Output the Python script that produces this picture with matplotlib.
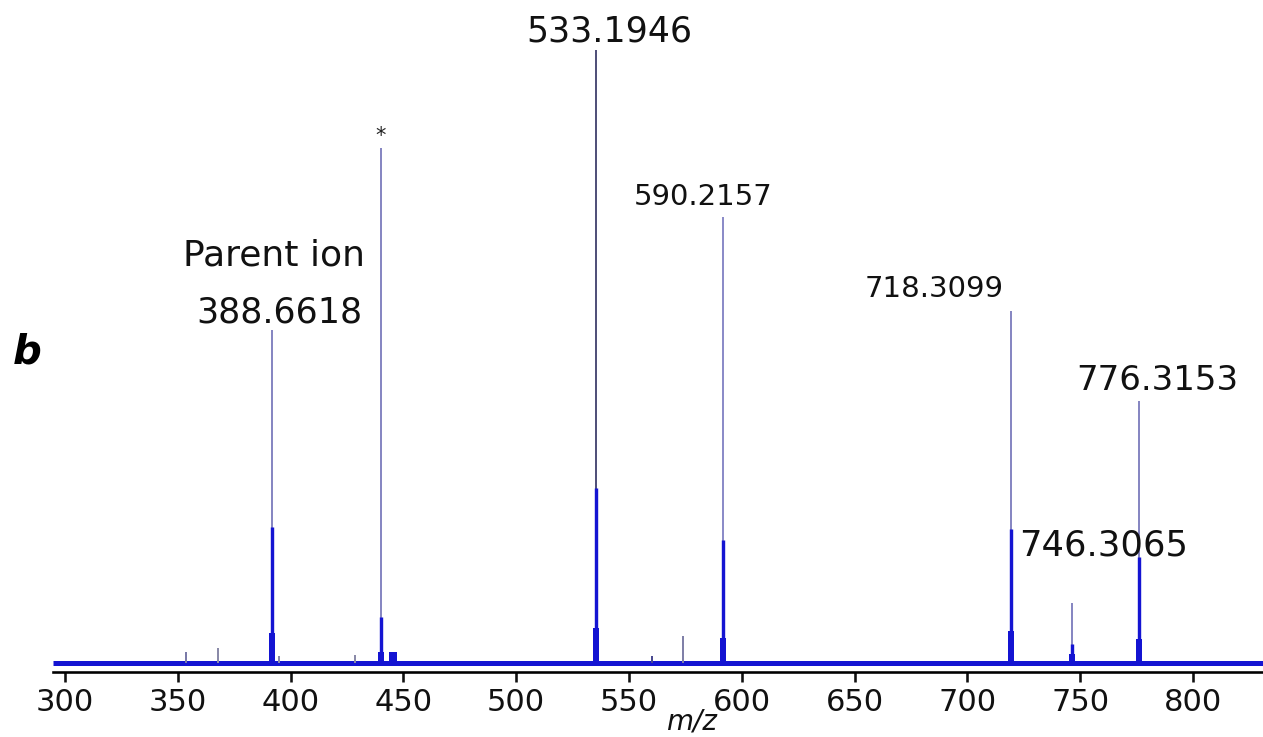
import matplotlib
matplotlib.use('Agg')
import matplotlib.pyplot as plt

# main peaks: m/z position, stick height, profile height, base width height (% rel.)
peak_mz = [391.8, 440.1, 535.4, 591.7, 719.3, 746.4, 776.1]
peak_top = [54.3, 84.0, 100.0, 72.8, 57.4, 9.8, 42.7]
peak_body = [22.2, 7.5, 28.5, 20.1, 21.9, 3.1, 17.3]
peak_base = [4.9, 1.8, 5.7, 4.1, 5.2, 1.5, 3.9]

# minor peaks
minor_mz = [353.6, 367.8, 394.9, 428.5, 445.5, 560.2, 573.9]
minor_int = [1.8, 2.4, 1.2, 1.3, 1.8, 1.1, 4.4]

# peak annotations: text, x, baseline y
label_text = ['533.1946', '590.2157', 'Parent ion', '388.6618', '718.3099', '776.3153', '746.3065']
label_x = [541.1, 582.8, 392.6, 394.9, 685.2, 784.0, 760.5]
label_y = [101.3, 74.7, 64.9, 55.5, 59.7, 44.5, 17.6]
label_size = [25, 21, 26, 25, 21, 24.5, 25.5]

ticks = [300, 350, 400, 450, 500, 550, 600, 650, 700, 750, 800]
xmin, xmax = 294.7, 831.0

blue = '#1414d2'
px = 0.72  # points per pixel at dpi 100

fig = plt.figure(figsize=(12.63, 7.37), dpi=100)
ax = fig.add_axes([53 / 1263, (737 - 672) / 737, 1210 / 1263, 662 / 737])

# baseline noise band
ax.plot([xmin, xmax], [0, 0], color=blue, lw=5 * px, solid_capstyle='butt', zorder=2)

stick_colors = ['#6a6ab4', '#6a6ab4', '#26265a', '#7070bb', '#6a6ab4', '#6a6ab4', '#6a6ab4']
ax.vlines(peak_mz, 0, peak_top, colors=stick_colors, lw=1.6 * px, zorder=3)
ax.vlines(peak_mz, 0, peak_body, colors=blue, lw=3.4 * px, zorder=4)
ax.vlines(peak_mz, 0, peak_base, colors=blue, lw=6 * px, zorder=4)

minor_colors = ['#7a7aa8', '#8a8aa8', '#8a8aa8', '#8a8aa8', blue, '#4a4a90', '#8080a8']
ax.vlines(minor_mz, 0, minor_int, colors=minor_colors, lw=[2 * px] * 4 + [8 * px] + [2 * px] * 2, zorder=3)

for t, x, y, s in zip(label_text, label_x, label_y, label_size):
    ax.text(x, y, t, ha='center', va='baseline', fontsize=s, color='#111111')
ax.text(440.1, 86.0, '*', ha='center', va='center', fontsize=15, color='#222222')

ax.set_xlim(xmin, xmax)
ax.set_ylim(-1.47, 106.5)
ax.set_xticks(ticks)
ax.set_yticks([])
for s in ['left', 'right', 'top']:
    ax.spines[s].set_visible(False)
ax.spines['bottom'].set_linewidth(2.6 * px)
ax.tick_params(axis='x', direction='out', length=10 * px, width=2.6 * px, labelsize=22, pad=4, colors='#111111')

ax.set_xlabel('m/z', fontsize=20, style='italic', color='#111111')
ax.xaxis.set_label_coords((692 - 53) / 1210, -(721 - 672) / 662)
ax.xaxis.label.set_va('center')

fig.text(27 / 1263, 1 - 352 / 737, 'b', fontsize=29, fontweight='bold', style='italic', ha='center', va='center')

plt.savefig('out.png', dpi=100)
